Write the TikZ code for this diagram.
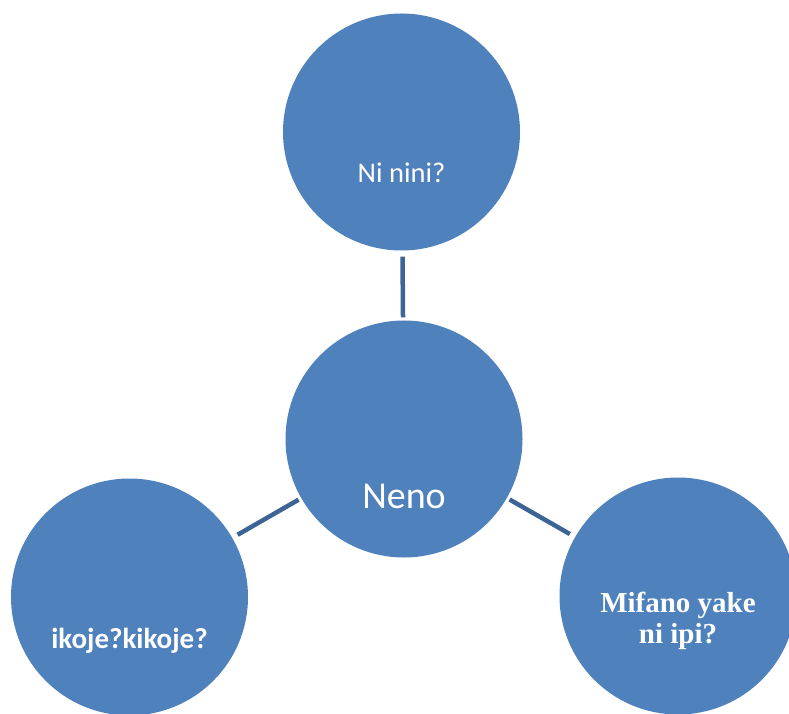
\documentclass[tikz,border=0pt]{standalone}
\usepackage{fontspec}
\setmainfont{Carlito}
\newfontfamily\timesbold{Liberation Serif}[BoldFont={Liberation Serif Bold}]
\usepackage{tikz}
\definecolor{bubblefill}{HTML}{4F81BD}
\definecolor{spokeblue}{HTML}{3C6496}
\tikzstyle{bubble} = [circle, fill=bubblefill, minimum size=237pt, inner sep=0pt]
\tikzstyle{lbl} = [text=white, inner sep=0pt, anchor=base]
\tikzstyle{spoke} = [line width=4.5pt, draw=spokeblue, shorten <=6pt, shorten >=3pt]

\begin{document}
\begin{tikzpicture}[x=1pt, y=1pt]
    \useasboundingbox (0,0) rectangle (789,713);
    \node[bubble] (neno) at (404,274) {};
    \node[bubble, above of=neno, node distance=307pt, xshift=-2.5pt] (swali) {};
    \node[bubble] (aina) at (129.5,116) {};
    \node[bubble] (mifano) at (678,117) {};
    % maandishi
    \node[lbl, font=\fontsize{28.5}{34}\selectfont] (swalitxt) at ([yshift=-51pt]swali.center) {Ni nini?};
    \node[lbl, font=\fontsize{38}{46}\selectfont] (nenotxt) at ([yshift=-69pt]neno.center) {Neno};
    \node[lbl, font=\fontsize{29}{34}\selectfont\bfseries] (ainatxt) at ([yshift=-51pt]aina.center) {ikoje?kikoje?};
    \node[lbl, align=center, font=\fontsize{29}{31}\timesbold\bfseries] (mifanotxt) at ([yshift=-47pt]mifano.center) {Mifano yake\\ni ipi?};
    \draw[spoke] (swali) -- (neno);
    \draw[spoke] (aina) -- (neno);
    \draw[spoke] (mifano) -- (neno);
  \end{tikzpicture}
\end{document}
